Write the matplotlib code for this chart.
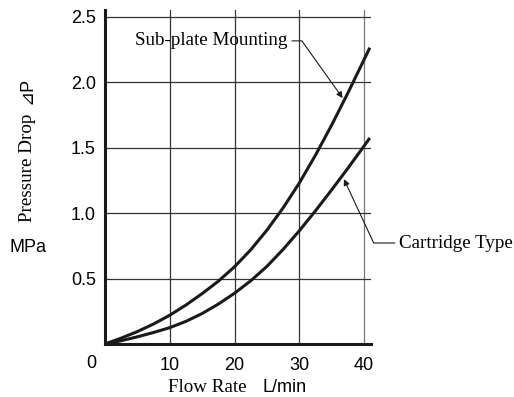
import numpy as np
import matplotlib.pyplot as plt

# values
flow = [0, 2.5, 5, 7.5, 10, 12.5, 15, 17.5, 20, 22.5, 25, 27.5, 30,
        32.5, 35, 37.5, 40, 40.9]
subplate = [0, 0.045, 0.095, 0.153, 0.22, 0.298, 0.385, 0.48, 0.59, 0.72,
            0.87, 1.04, 1.23, 1.443, 1.673, 1.918, 2.173, 2.265]
cartridge = [0, 0.025, 0.055, 0.088, 0.125, 0.173, 0.233, 0.305, 0.388,
             0.483, 0.593, 0.723, 0.865, 1.018, 1.178, 1.343, 1.513, 1.575]

xticks = [10, 20, 30, 40]
yticks = [0.5, 1.0, 1.5, 2.0, 2.5]

serif = ['Liberation Serif', 'DejaVu Serif']
sans = ['Liberation Sans', 'DejaVu Sans']
fs_serif = 13.7
fs_sans = 13

fig = plt.figure(figsize=(5.14, 3.97), dpi=100)
ax = fig.add_axes([0.2043, 0.1335, 0.7218 - 0.2043, 0.9748 - 0.1335])

ax.plot(flow, subplate, color='#1a1a1a', lw=2.2, solid_capstyle='butt',
        solid_joinstyle='round')
ax.plot(flow, cartridge, color='#1a1a1a', lw=2.2, solid_capstyle='butt',
        solid_joinstyle='round')

ax.set_xlim(0, 41.08)
ax.set_ylim(0, 2.553)
ax.set_xticks(xticks)
ax.set_yticks(yticks)
ax.set_xticklabels([str(v) for v in xticks], family=sans, fontsize=fs_sans)
ax.set_yticklabels([f'{v:.1f}' for v in yticks], family=sans, fontsize=fs_sans)
ax.tick_params(axis='y', length=0, pad=6.5)
ax.tick_params(axis='x', length=0, pad=9)
ax.grid(True, color='#333333', lw=0.9)
ax.set_axisbelow(True)
ax.get_xgridlines()[-1].set_color('#777777')

for s in ['top', 'right']:
    ax.spines[s].set_visible(False)
for s in ['left', 'bottom']:
    ax.spines[s].set_linewidth(2.2)
    ax.spines[s].set_color('#1a1a1a')

# origin label
fig.text(91 / 514, 1 - 364 / 397, '0', family=sans, fontsize=fs_sans,
         ha='center', va='center')

# axis labels
fig.text(27 / 514, 1 - 167.5 / 397, 'Pressure Drop', family=serif, fontsize=fs_serif,
         rotation=90, ha='center', va='center')
fig.text(27 / 514, 1 - 90.5 / 397, '\u22bfP', family=sans, fontsize=fs_sans,
         rotation=90, ha='center', va='center')
fig.text(28 / 514, 1 - 247 / 397, 'MPa', family=sans, fontsize=fs_sans,
         ha='center', va='center')
fig.text(207 / 514, 1 - 388 / 397, 'Flow Rate', family=serif, fontsize=fs_serif,
         ha='center', va='center')
fig.text(284.5 / 514, 1 - 388 / 397, 'L/min', family=sans, fontsize=fs_sans,
         ha='center', va='center')

# annotations
ax.annotate('Sub-plate Mounting', xy=(36.7, 1.88), xytext=(16.45, 2.317),
            fontsize=fs_serif, family=serif, ha='center', va='center',
            arrowprops=dict(arrowstyle='-|>', color='#1a1a1a', lw=0.8,
                            shrinkA=1, shrinkB=0, mutation_scale=9,
                            connectionstyle='angle,angleA=0,angleB=-54.5,rad=0'))
ax.annotate('Cartridge Type', xy=(36.9, 1.26), xytext=(54.2, 0.772),
            fontsize=fs_serif, family=serif, ha='center', va='center',
            annotation_clip=False,
            arrowprops=dict(arrowstyle='-|>', color='#1a1a1a', lw=0.8,
                            shrinkA=1, shrinkB=0, mutation_scale=9,
                            connectionstyle='angle,angleA=0,angleB=115,rad=0'))

fig.savefig('out.png', dpi=100)
